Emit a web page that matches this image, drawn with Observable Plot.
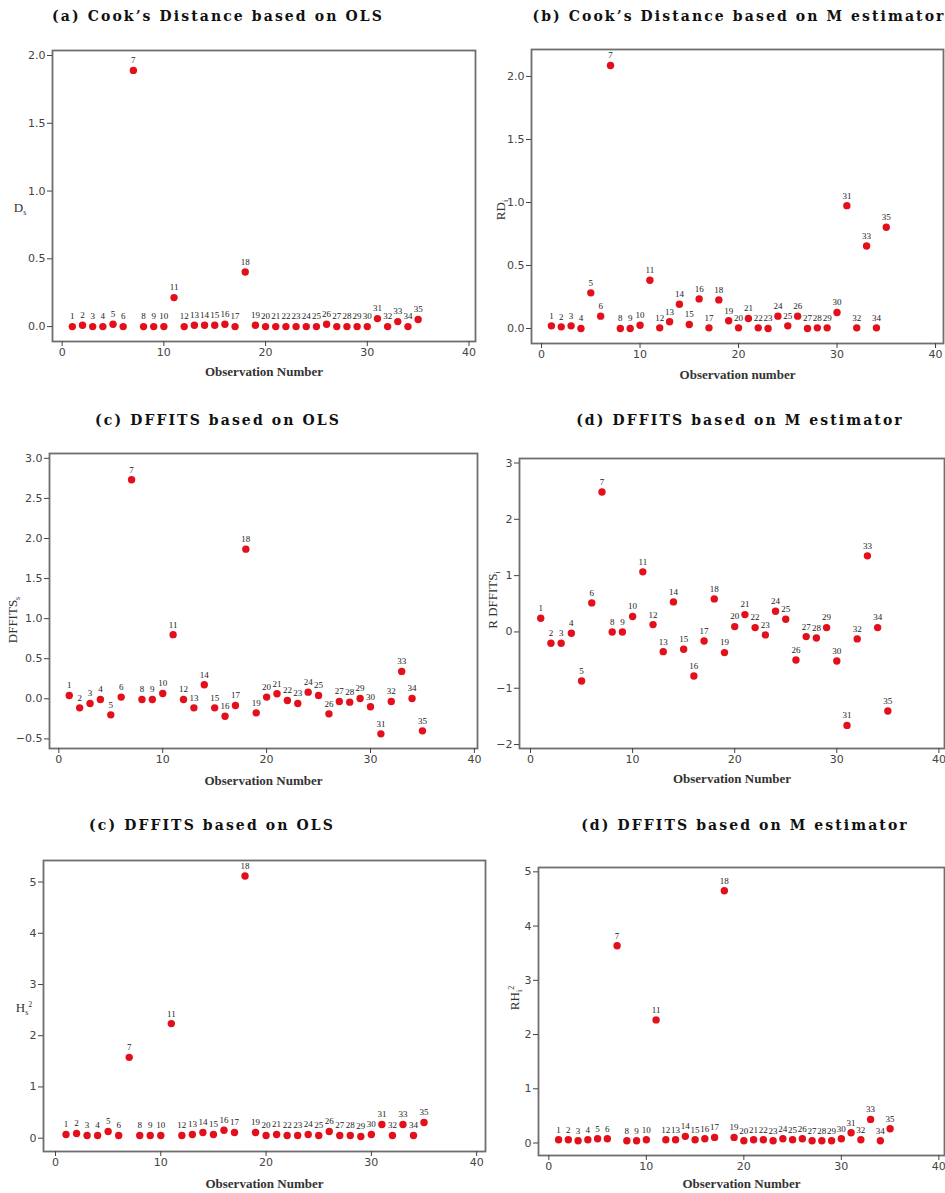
<!DOCTYPE html>
<html><head><meta charset="utf-8">
<script src="https://cdn.jsdelivr.net/npm/d3@7"></script>
<script src="https://cdn.jsdelivr.net/npm/@observablehq/plot@0.6"></script>
<style>
body{margin:0;background:#fff;}
#page{position:relative;width:945px;height:1193px;overflow:hidden;background:#fff;}
.panel{position:absolute;}
.title{position:absolute;font-family:"DejaVu Serif";font-weight:bold;font-size:14px;letter-spacing:2.1px;white-space:nowrap;transform:translateX(-50%);color:#111;line-height:14px;}
.ylab{position:absolute;font-family:"Liberation Serif";font-size:13px;color:#333;white-space:nowrap;line-height:13px;}
.rot{transform:translate(-50%,-50%) rotate(-90deg);}
.hor{transform:translate(-50%,-50%);}
.ylab sub{font-size:8px;vertical-align:-3px;}
.ylab sup{font-size:8px;vertical-align:5px;}
g[aria-label="x-axis label"] text{font-family:"Liberation Serif";font-weight:bold;font-size:13px;fill:#333;}
</style></head>
<body><div id="page"></div>
<script>
const obs = [1,2,3,4,5,6,7,8,9,10,11,12,13,14,15,16,17,18,19,20,21,22,23,24,25,26,27,28,29,30,31,32,33,34,35];
const cookOLS = [0.0,0.01,0.0,0.0,0.017,0.0,1.89,0.0,0.0,0.0,0.214,0.0,0.01,0.01,0.01,0.017,0.0,0.403,0.01,0.0,0.0,0.0,0.0,0.0,0.0,0.017,0.0,0.0,0.0,0.0,0.059,0.0,0.037,0.0,0.052];
const cookM = [0.021,0.013,0.021,0.0,0.283,0.098,2.087,0.0,0.0,0.026,0.383,0.005,0.053,0.193,0.032,0.235,0.005,0.227,0.061,0.005,0.079,0.005,0.0,0.098,0.021,0.098,0.0,0.005,0.005,0.127,0.975,0.005,0.655,0.005,0.803];
const dffitsOLS = [0.042,-0.113,-0.058,-0.008,-0.2,0.021,2.733,-0.008,-0.008,0.067,0.8,-0.008,-0.113,0.175,-0.113,-0.217,-0.083,1.867,-0.175,0.021,0.063,-0.021,-0.058,0.083,0.042,-0.188,-0.033,-0.042,0.004,-0.1,-0.4375,-0.033,0.342,0.004,-0.4];
const dffitsM = [0.243,-0.2,-0.2,-0.024,-0.871,0.516,2.484,0.0,0.0,0.273,1.067,0.13,-0.35,0.533,-0.308,-0.782,-0.16,0.587,-0.367,0.095,0.308,0.077,-0.053,0.367,0.225,-0.498,-0.083,-0.107,0.077,-0.516,-1.66,-0.124,1.351,0.077,-1.405];
const hadiOLS = [0.072,0.091,0.052,0.052,0.13,0.052,1.578,0.052,0.052,0.052,2.236,0.052,0.072,0.111,0.072,0.156,0.111,5.117,0.111,0.052,0.072,0.052,0.052,0.072,0.052,0.13,0.052,0.052,0.033,0.072,0.267,0.052,0.267,0.052,0.306];
const hadiM = [0.061,0.061,0.043,0.061,0.08,0.08,3.638,0.043,0.043,0.061,2.27,0.061,0.061,0.123,0.061,0.08,0.104,4.65,0.104,0.043,0.061,0.061,0.043,0.08,0.061,0.08,0.043,0.043,0.043,0.08,0.19,0.061,0.436,0.043,0.264];

const titles = ["(a) Cook\u2019s Distance based on OLS","(b) Cook\u2019s Distance based on M estimator","(c) DFFITS based on OLS","(d) DFFITS based on M estimator","(c) DFFITS based on OLS","(d) DFFITS based on M estimator"];
const xTitles = ["Observation Number","Observation number","Observation Number","Observation Number","Observation Number","Observation Number"];
const xTicks = [0,10,20,30,40];
const yTicksDec = [0,0.5,1,1.5,2];
const yTicksC = [-0.5,0,0.5,1,1.5,2,2.5,3];
const yTicksD = [-2,-1,0,1,2,3];
const yTicksH = [0,1,2,3,4,5];

const page = document.getElementById("page");

const panels = [
  {vals:cookOLS, left:0, top:30, w:478, h:355, m:[20,3,44,52], xd:[-0.95,40.64], yd:[-0.11,2.037], yt:yTicksDec, fmt:d3.format(".1f"), lo:34,
   title:{x:218, y:9}, ylab:{html:"D<sub>s</sub>", x:20, y:210, rot:false}},
  {vals:cookM, left:478, top:29, w:467, h:356, m:[20,2,42,53], xd:[-1.02,40.81], yd:[-0.119,2.214], yt:yTicksDec, fmt:d3.format(".1f"), lo:35,
   title:{x:739, y:9}, ylab:{html:"RD<sub>i</sub>", x:503, y:210, rot:true}},
  {vals:dffitsOLS, left:0, top:433, w:479, h:357, m:[20,2,42,49], xd:[-0.9,40.3], yd:[-0.62,3.06], yt:yTicksC, fmt:d3.format(".1f"), lo:36,
   title:{x:218, y:413}, ylab:{html:"DFFITS<sub>s</sub>", x:15, y:620, rot:true}},
  {vals:dffitsM, left:479, top:438, w:466, h:352, m:[20,1,42,40], xd:[-1.08,40.55], yd:[-2.07,3.08], yt:yTicksD, fmt:d3.format("d"), lo:34,
   title:{x:740, y:413}, ylab:{html:"R DFFITS<sub>i</sub>", x:495, y:600, rot:true}},
  {vals:hadiOLS, left:0, top:840, w:487, h:353, m:[20,2,42,43], xd:[-1.14,40.84], yd:[-0.26,5.42], yt:yTicksH, fmt:d3.format("d"), lo:36,
   title:{x:212, y:818}, ylab:{html:"H<sub>s</sub><sup>2</sup>", x:24, y:1008, rot:false}},
  {vals:hadiM, left:488, top:847, w:457, h:346, m:[20,1,38,50], xd:[-1.06,40.58], yd:[-0.23,5.08], yt:yTicksH, fmt:d3.format("d"), lo:32,
   title:{x:745, y:818}, ylab:{html:"RH<sub>i</sub><sup>2</sup>", x:515, y:998, rot:true}}
];

panels.forEach((p, i) => {
  const data = obs.map((o, k) => ({obs:o, v:p.vals[k]}));
  const chart = Plot.plot({
    width:p.w, height:p.h,
    marginTop:p.m[0], marginRight:p.m[1], marginBottom:p.m[2], marginLeft:p.m[3],
    x:{domain:p.xd},
    y:{domain:p.yd},
    style:{fontFamily:"DejaVu Sans", fontSize:"11px", color:"#444", background:"transparent", overflow:"visible"},
    marks:[
      Plot.frame({stroke:"#6e6e6e", strokeWidth:1.8}),
      Plot.axisX({ticks:xTicks, tickSize:5, tickPadding:2, tickFormat:d3.format("d"), label:xTitles[i], labelAnchor:"center", labelOffset:p.lo, labelArrow:"none"}),
      Plot.axisY({ticks:p.yt, tickSize:5, tickPadding:2, tickFormat:p.fmt, label:null}),
      Plot.dot(data, {x:"obs", y:"v", r:3.7, fill:"#e3101c", stroke:"none"}),
      Plot.text(data, {x:"obs", y:"v", text:d => String(d.obs), dy:-10, fontSize:9, fontFamily:"Liberation Serif", fill:"#222"})
    ]
  });
  const div = document.createElement("div");
  div.className = "panel";
  div.style.left = p.left + "px";
  div.style.top = p.top + "px";
  div.appendChild(chart);
  page.appendChild(div);

  const t = document.createElement("div");
  t.className = "title";
  t.textContent = titles[i];
  t.style.left = p.title.x + "px";
  t.style.top = p.title.y + "px";
  page.appendChild(t);

  const yl = document.createElement("div");
  yl.className = "ylab " + (p.ylab.rot ? "rot" : "hor");
  yl.innerHTML = p.ylab.html;
  yl.style.left = p.ylab.x + "px";
  yl.style.top = p.ylab.y + "px";
  page.appendChild(yl);
});
</script>
</body></html>
